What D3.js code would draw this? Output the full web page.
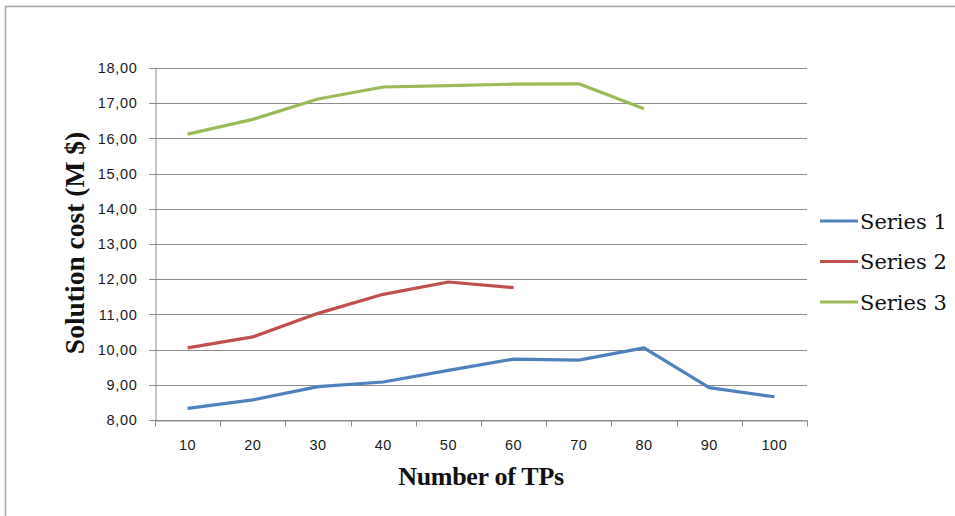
<!DOCTYPE html>
<html>
<head>
<meta charset="utf-8">
<script src="https://cdn.jsdelivr.net/npm/d3@7"></script>
<style>
  html, body { margin: 0; padding: 0; background: #fff; }
  svg { display: block; }
</style>
</head>
<body>
<svg id="chart" width="955" height="516"></svg>
<script>
// Number of TPs on the x axis
const categories = [10, 20, 30, 40, 50, 60, 70, 80, 90, 100];
// Solution cost (M $) per series
const series1 = [8.33, 8.57, 8.95, 9.08, 9.41, 9.73, 9.70, 10.05, 8.92, 8.66];
const series2 = [10.05, 10.36, 11.03, 11.57, 11.92, 11.76];
const series3 = [16.12, 16.54, 17.12, 17.46, 17.50, 17.54, 17.55, 16.84];
const seriesNames = ["Series 1", "Series 2", "Series 3"];
const seriesColors = ["#4F81BD", "#C0504D", "#9BBB59"];
const yTicks = [8, 9, 10, 11, 12, 13, 14, 15, 16, 17, 18];

const svg = d3.select("#chart");

// outer chart frame
svg.append("rect")
  .attr("x", 5.5).attr("y", 6.5)
  .attr("width", 1000).attr("height", 600)
  .attr("fill", "none").attr("stroke", "#a6a6a6").attr("stroke-width", 1.5);

const plot = { left: 155, right: 807, top: 68, bottom: 420 };

const x = d3.scaleBand().domain(categories).range([plot.left, plot.right]);
const y = d3.scaleLinear().domain([8, 18]).range([plot.bottom, plot.top]);

const tickFont = "Liberation Sans, Arial, sans-serif";

// horizontal gridlines
svg.append("g")
  .selectAll("line")
  .data(yTicks)
  .join("line")
  .attr("x1", plot.left - 6).attr("x2", plot.right)
  .attr("y1", d => Math.round(y(d)) + 0.5).attr("y2", d => Math.round(y(d)) + 0.5)
  .attr("stroke", "#8c8c8c").attr("stroke-width", 1);

// y axis
const yAxis = svg.append("g")
  .attr("transform", `translate(${plot.left + 0.5},0)`)
  .call(d3.axisLeft(y).tickValues(yTicks).tickSize(0).tickPadding(18)
    .tickFormat(d => d3.format(".2f")(d).replace(".", ",")));
yAxis.select(".domain").attr("stroke", "#8c8c8c");
yAxis.selectAll("text")
  .attr("font-family", tickFont)
  .attr("font-size", 14.5).attr("letter-spacing", 0.7).attr("fill", "#1a1a1a");

// x axis with tick marks between categories
const xAxis = svg.append("g")
  .attr("transform", `translate(0,${plot.bottom + 0.5})`)
  .call(d3.axisBottom(x).tickSize(0).tickPadding(19));
xAxis.select(".domain").attr("stroke", "#8c8c8c");
xAxis.selectAll("text")
  .attr("font-family", tickFont)
  .attr("font-size", 14.5).attr("letter-spacing", 0.5).attr("fill", "#1a1a1a");
xAxis.append("g")
  .selectAll("line")
  .data(d3.range(categories.length + 1))
  .join("line")
  .attr("x1", i => Math.round(plot.left + i * x.step()) + 0.5)
  .attr("x2", i => Math.round(plot.left + i * x.step()) + 0.5)
  .attr("y1", 0).attr("y2", 6)
  .attr("stroke", "#8c8c8c");

// series lines
const allSeries = [series1, series2, series3];
const line = d3.line()
  .x((d, i) => x(categories[i]) + x.bandwidth() / 2)
  .y(d => y(d));

svg.append("g")
  .selectAll("path")
  .data(allSeries)
  .join("path")
  .attr("d", d => line(d))
  .attr("fill", "none")
  .attr("stroke", (d, i) => seriesColors[i])
  .attr("stroke-width", 3.2)
  .attr("stroke-linejoin", "round");

// axis titles
svg.append("text")
  .attr("x", 481).attr("y", 485)
  .attr("text-anchor", "middle")
  .attr("font-family", "Liberation Serif, Times New Roman, serif")
  .attr("font-weight", "bold").attr("font-size", 26)
  .attr("letter-spacing", -0.3)
  .attr("fill", "#111")
  .text("Number of TPs");

svg.append("text")
  .attr("transform", "translate(84,243) rotate(-90)")
  .attr("text-anchor", "middle")
  .attr("font-family", "Liberation Serif, Times New Roman, serif")
  .attr("font-weight", "bold").attr("font-size", 27.5)
  .attr("fill", "#111")
  .text("Solution cost (M $)");

// legend
const legend = svg.append("g")
  .selectAll("g")
  .data(seriesNames)
  .join("g")
  .attr("transform", (d, i) => `translate(820,${221 + i * 40.5})`);
legend.append("line")
  .attr("x1", 0).attr("x2", 38)
  .attr("stroke", (d, i) => seriesColors[i])
  .attr("stroke-width", 3.2);
legend.append("text")
  .attr("x", 40).attr("y", 7.5)
  .attr("font-family", "DejaVu Serif, serif")
  .attr("font-size", 21)
  .attr("fill", "#111")
  .text(d => d);
</script>
</body>
</html>
